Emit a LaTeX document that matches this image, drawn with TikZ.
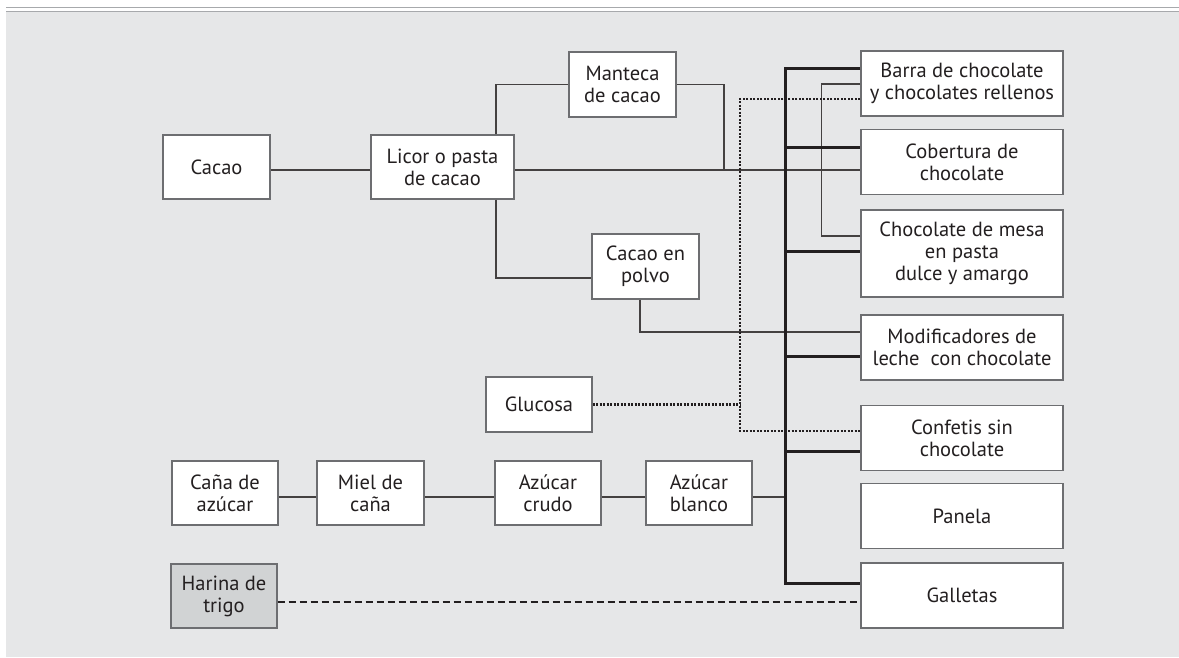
\documentclass[tikz,border=0pt]{standalone}
\usepackage{fontspec}
\setmainfont{PT Sans}
\usetikzlibrary{backgrounds,positioning}
\definecolor{panel}{HTML}{E6E7E8}
\definecolor{rulegray}{HTML}{A7A9AC}
\definecolor{frame}{HTML}{6D6E71}
\definecolor{ink}{HTML}{231F20}
\definecolor{flour}{HTML}{D1D3D4}

\begin{document}
\begin{tikzpicture}[x=1pt,y=-1pt,
  box/.style={draw=frame,fill=white,line width=1.2pt,align=center,inner sep=0pt,
    minimum width=107pt,minimum height=64pt,text=ink,font=\fontsize{20.5}{22}\selectfont},
  wide/.style={box,minimum width=202pt,minimum height=65pt},
  ln/.style={draw=ink!85,line width=1.5pt},
  bus/.style={draw=ink,line width=3pt},
  dots/.style={draw=ink,line width=2.4pt,dash pattern=on 2pt off 1.5pt},
  flourline/.style={draw=ink,line width=1.8pt,dash pattern=on 7pt off 4pt}]
\useasboundingbox (0,0) rectangle (1179,657);
\fill[panel] (6,12) rectangle (1179,657);
\draw[rulegray,line width=1.3pt] (6,7.5) -- (1179,7.5);
\draw[rulegray,line width=1.3pt] (6,11.3) -- (1179,11.3);

\node[box] (cacao) at (216.5,167) {Cacao};
\node[box,minimum width=143pt] (licor) at (442.5,167) {Licor o pasta\\de cacao};
\node[box,minimum height=65pt] (manteca) at (622.5,84.5) {Manteca\\de cacao};
\node[box,minimum height=65pt] (polvo) at (645.5,266.5) {Cacao en\\polvo};
\node[box,minimum width=106pt,minimum height=55pt] (glucosa) at (539,404.5) {Glucosa};
\node[box,minimum width=106pt] (cana) at (225,493) {Caña de\\azúcar};
\node[box] (miel) at (370.5,493) {Miel de\\caña};
\node[box,minimum width=106pt] (crudo) at (548,493) {Azúcar\\crudo};
\node[box,minimum width=106pt] (blanco) at (699,493) {Azúcar\\blanco};
\node[box,minimum width=106pt,fill=flour] (harina) at (224,596) {Harina de\\trigo};

\node[wide] (barra) at (962,83.5) {Barra de chocolate\\y chocolates rellenos};
\node[wide] (cobertura) at (962,162) {Cobertura de\\chocolate};
\node[wide,minimum height=87pt] (mesa) at (962,253.5) {Chocolate de mesa\\en pasta\\dulce y amargo};
\node[wide] (modif) at (962,347.5) {Modificadores de\\leche~ con chocolate};
\node[wide] (confetis) at (962,438) {Confetis sin\\chocolate};
\node[wide] (panela) at (962,516) {Panela};
\node[wide] (galletas) at (962,595.5) {Galletas};

\coordinate (main) at (0,170);
\coordinate (sugar) at (0,497);
\draw[ln] (cacao.east |- main) -- (licor.west |- main);
\draw[ln] (licor.east |- main) -- (cobertura.west |- main);
\draw[ln] (licor.north -| 496,0) |- (manteca.west);
\draw[ln] (manteca.east) -| (724,170);
\draw[ln] (licor.south -| 496,0) |- (polvo.west |- 0,278);
\draw[ln] (polvo.south -| 640,0) |- (modif.west |- 0,332);
\draw[ln] (barra.west |- 0,84) -- ++(-39,0) |- (mesa.west |- 0,236);
\draw[ln] (cana.east |- sugar) -- (miel.west |- sugar);
\draw[ln] (miel.east |- sugar) -- (crudo.west |- sugar);
\draw[ln] (crudo.east |- sugar) -- (blanco.west |- sugar);
\draw[ln] (blanco.east |- sugar) -- (785,497);

\draw[dots] (barra.west |- 0,99) -| (740,431) -- (confetis.west |- 0,431);
\draw[dots] (glucosa.east) -- (glucosa.east -| 740,0);

\draw[bus] (barra.west |- 0,68) -- (785,68) -- (785,583) -- (galletas.west |- 0,583);
\foreach \n/\y in {cobertura/147,mesa/251,modif/356,confetis/451}
  \draw[bus] (785,\y) -- (\n.west |- 0,\y);

\draw[flourline] (harina.east |- 0,602) -- (galletas.west |- 0,602);
\end{tikzpicture}
\end{document}
